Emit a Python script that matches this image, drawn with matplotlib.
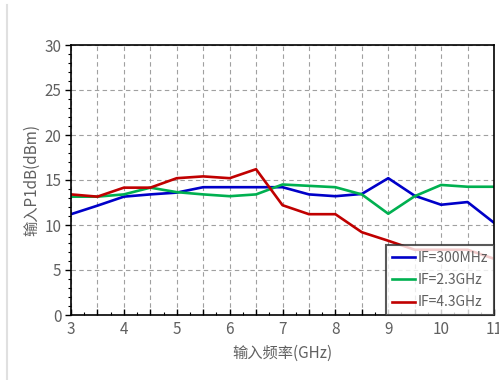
import matplotlib
matplotlib.use("Agg")
import matplotlib.pyplot as plt
from matplotlib.ticker import MultipleLocator, FuncFormatter
from matplotlib.lines import Line2D

plt.rcParams['font.family'] = ['Noto Sans CJK SC', 'DejaVu Sans']

freq = [3, 3.5, 4, 4.5, 5, 5.5, 6, 6.5, 7, 7.5, 8, 8.5, 9, 9.5, 10, 10.5, 11]
if_300m = [11.2, 12.15, 13.15, 13.4, 13.6, 14.2, 14.2, 14.2, 14.2, 13.4, 13.2, 13.45, 15.2, 13.25, 12.25, 12.55, 10.25]
if_2g3 = [13.15, 13.15, 13.4, 14.15, 13.65, 13.4, 13.2, 13.4, 14.5, 14.35, 14.2, 13.4, 11.25, 13.2, 14.45, 14.25, 14.25]
if_4g3 = [13.4, 13.15, 14.15, 14.15, 15.2, 15.4, 15.2, 16.2, 12.2, 11.2, 11.2, 9.2, 8.25, 7.25, 7.25, 7.25, 6.25]
labels = ['IF=300MHz', 'IF=2.3GHz', 'IF=4.3GHz']
colors = ['#0000C8', '#00B050', '#C00000']

fig = plt.figure(figsize=(4.99, 3.80), dpi=100)
ax = fig.add_axes([71/499, 1 - 315/380, (494 - 71)/499, (315 - 45)/380])

for ys, lab, c in zip([if_300m, if_2g3, if_4g3], labels, colors):
    ax.plot(freq, ys, color=c, lw=1.9, label=lab)

ax.set_xlim(3, 11)
ax.set_ylim(0, 30)
ax.xaxis.set_major_locator(MultipleLocator(0.5))
ax.xaxis.set_minor_locator(MultipleLocator(0.25))
ax.yaxis.set_major_locator(MultipleLocator(5))
ax.yaxis.set_minor_locator(MultipleLocator(1))
ax.xaxis.set_major_formatter(FuncFormatter(lambda v, p: f"{int(round(v))}" if abs(v - round(v)) < 1e-6 else ""))
ax.grid(True, which='major', color='#A0A0A0', ls=(0, (4, 3)), lw=0.8)
ax.set_axisbelow(True)

gray = '#606060'
ax.tick_params(axis='y', which='major', direction='out', length=4, width=1, labelsize=11, labelcolor=gray, pad=3)
ax.tick_params(axis='y', which='minor', direction='out', length=2.5, width=0.8)
ax.tick_params(axis='x', which='major', direction='in', length=4, width=1, labelsize=11, labelcolor=gray, pad=4)
ax.tick_params(axis='x', which='minor', direction='in', length=2.5, width=0.8)
for s in ax.spines.values():
    s.set_color('black')
    s.set_linewidth(1.2)

ax.set_xlabel('输入频率(GHz)', fontsize=11, color=gray, labelpad=5)
ax.set_ylabel('输入P1dB(dBm)', fontsize=11, color=gray, labelpad=3)

leg = ax.legend(loc='lower right', fontsize=10, frameon=True, fancybox=False,
                borderaxespad=0.0, handlelength=1.7, handletextpad=0.2,
                labelspacing=0.6, borderpad=0.4)
leg.get_frame().set_edgecolor('#303030')
leg.get_frame().set_linewidth(1.5)
for t in leg.get_texts():
    t.set_color(gray)

fig.add_artist(Line2D([6.5/499, 6.5/499], [0, 1 - 5/380], color='#E0E0E0', lw=1.5, transform=fig.transFigure))

fig.savefig('out.png', dpi=100)
